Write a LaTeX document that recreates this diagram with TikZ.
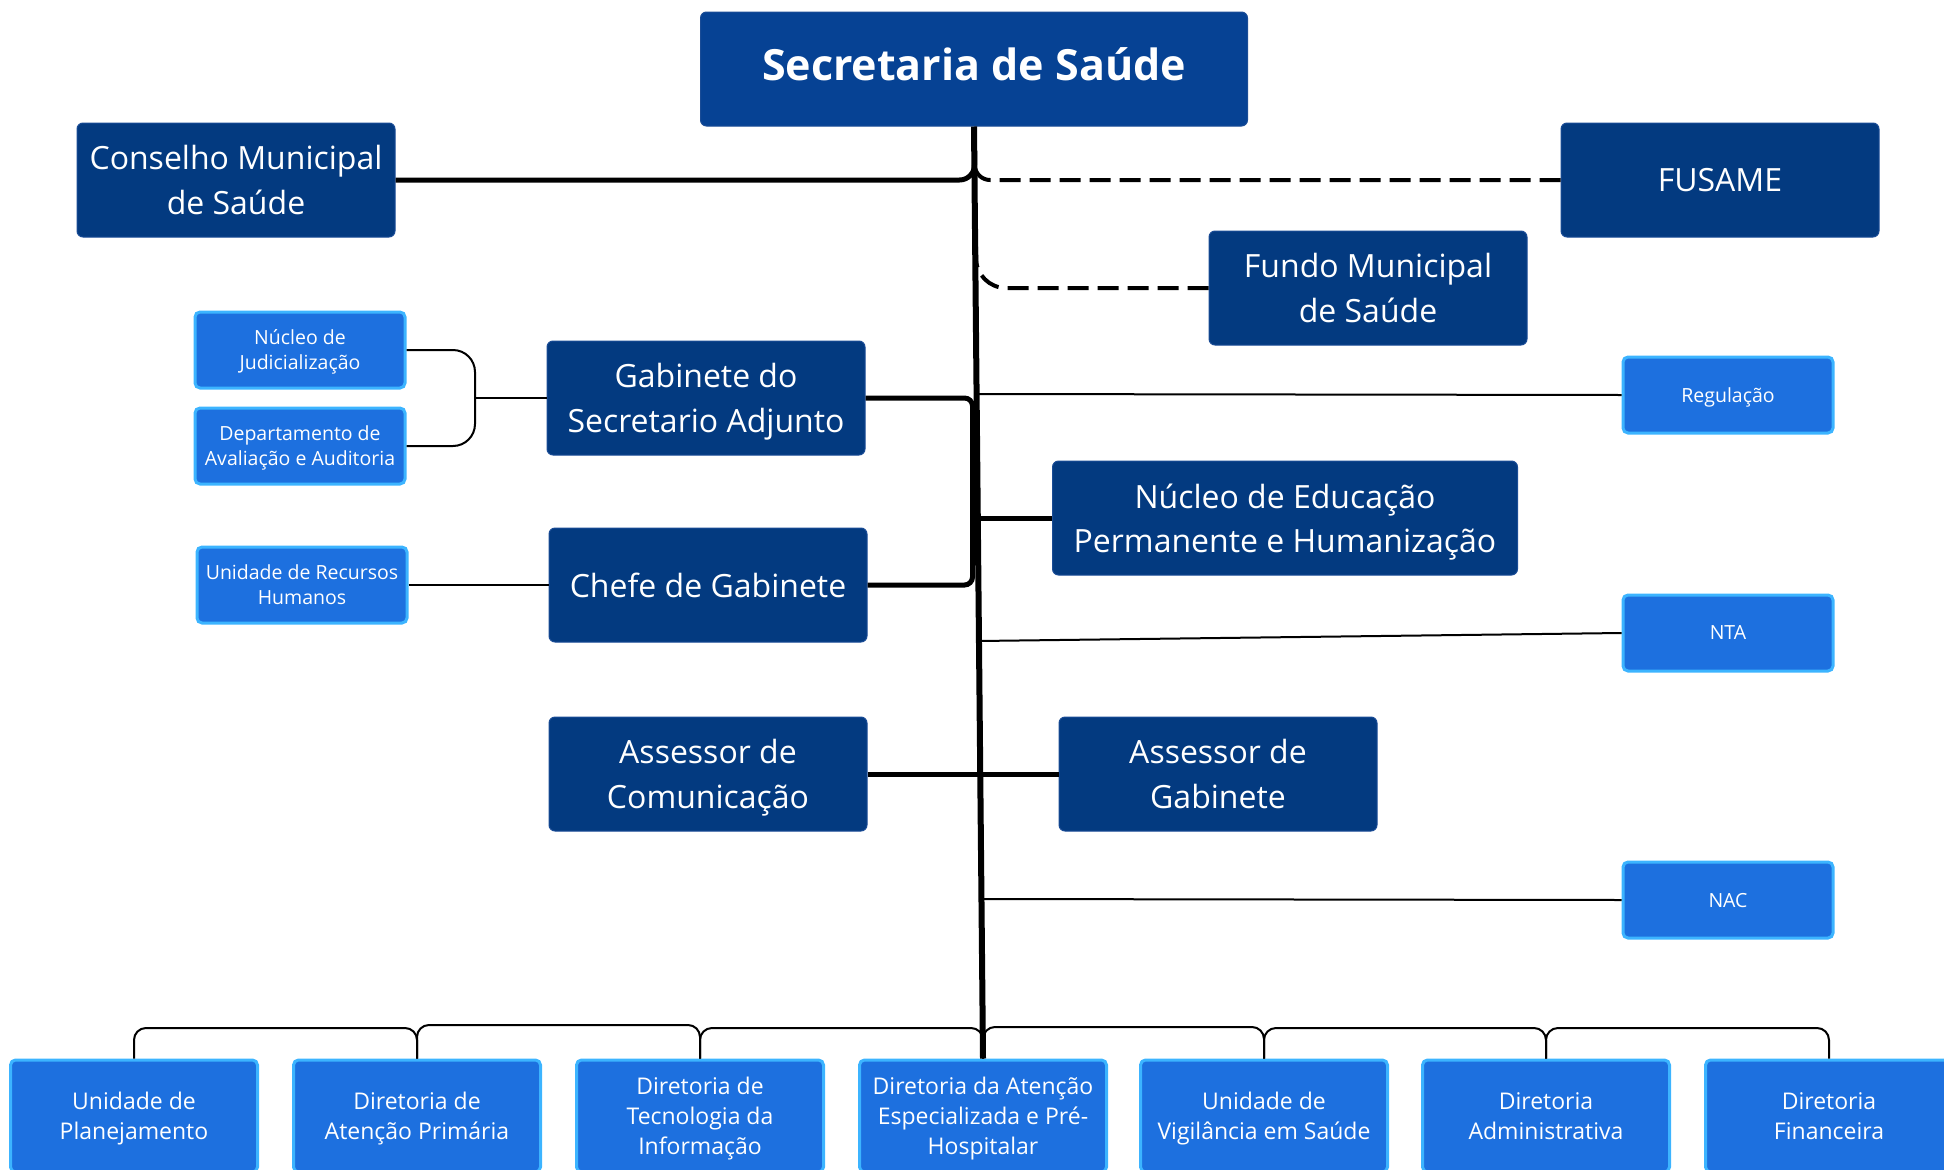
\documentclass[tikz,border=0pt]{standalone}
\usepackage{fontspec}
\setmainfont{Open Sans}
\definecolor{cNavy}{HTML}{033A80}
\definecolor{cNavyEdge}{HTML}{1A4C96}
\definecolor{cTop}{HTML}{064294}
\definecolor{cLight}{HTML}{1D70DF}
\definecolor{cCyan}{HTML}{3CB4FF}
\begin{document}
\begin{tikzpicture}[x=1pt,y=-1pt,
  box/.style={rectangle, rounded corners=6pt, inner sep=0pt, align=center, text=white, text depth=0pt},
  dark/.style={box, fill=cNavy, draw=cNavyEdge, line width=1pt, minimum width=318pt, minimum height=114pt, font=\fontsize{32}{44.5}\selectfont},
  small/.style={box, rounded corners=5pt, fill=cLight, draw=cCyan, line width=3pt, minimum width=210pt, minimum height=76pt, font=\fontsize{19.5}{25}\selectfont},
  bottombox/.style={small, minimum width=247pt, minimum height=112pt, font=\fontsize{23}{30}\selectfont},
  trunkline/.style={line width=6pt},
  thickline/.style={line width=5pt},
  thinline/.style={line width=2pt},
  dashlink/.style={line width=4pt, dash pattern=on 21pt off 9pt}
]
\useasboundingbox (0,0) rectangle (1944,1170);

% top
\node[rectangle, rounded corners=6pt, inner sep=0pt, text=white, fill=cTop, draw=cNavyEdge, line width=1pt,
  minimum width=547pt, minimum height=114pt, text height=23pt, text depth=0pt,
  font=\fontsize{43}{50}\selectfont\bfseries] (sec) at (974,69) {Secretaria de Saúde};
\node[dark] (cms) at (236,180) {Conselho Municipal\\de Saúde};
\node[dark] (fus) at (1720,180) {FUSAME};
\node[dark] (fms) at (1368,288) {Fundo Municipal\\de Saúde};
\node[dark] (gsa) at (706,398) {Gabinete do\\Secretario Adjunto};
\node[dark] (chg) at (708,585) {Chefe de Gabinete};
\node[dark, minimum width=465pt] (nep) at (1285,518) {Núcleo de Educação\\Permanente e Humanização};
\node[dark] (asc) at (708,774) {Assessor de\\Comunicação};
\node[dark] (asg) at (1218,774) {Assessor de\\Gabinete};

% small boxes
\node[small] (nj) at (300,350) {Núcleo de\\Judicialização};
\node[small] (daa) at (300,446) {Departamento de\\Avaliação e Auditoria};
\node[small] (urh) at (302,585) {Unidade de Recursos\\Humanos};
\node[small] (reg) at (1728,395) {Regulação};
\node[small] (nta) at (1728,633) {NTA};
\node[small] (nac) at (1728,900) {NAC};

% bottom boxes
\node[bottombox] (b1) at (134,1116) {Unidade de\\Planejamento};
\node[bottombox] (b2) at (417,1116) {Diretoria de\\Atenção Primária};
\node[bottombox] (b3) at (700,1116) {Diretoria de\\Tecnologia da\\Informação};
\node[bottombox] (b4) at (983,1116) {Diretoria da Atenção\\Especializada e Pré-\\Hospitalar};
\node[bottombox] (b5) at (1264,1116) {Unidade de\\Vigilância em Saúde};
\node[bottombox] (b6) at (1546,1116) {Diretoria\\Administrativa};
\node[bottombox] (b7) at (1829,1116) {Diretoria\\Financeira};

% trunk
\draw[trunkline] (sec.south) -- (b4.north);

% coordinates on trunk
\coordinate (tC) at (974.5,150);
\coordinate (tF) at (976,240);
\coordinate (tR) at (976.5,394);
\coordinate (tN) at (977.5,518);
\coordinate (tT) at (978.6,641);
\coordinate (tA) at (980.5,899);
\coordinate (jL) at (475,398);

% Conselho and FUSAME / Fundo
\draw[thickline, rounded corners=15pt] (cms.east) -- (974.5,180) -- (tC);
\draw[dashlink, rounded corners=15pt] (fus.west) -- (975,180) -- (tC);
\draw[dashlink, rounded corners=30pt] (fms.west) -- (976,288) -- (tF);

% Gabinete adjunto / chefe bracket
\draw[thickline, rounded corners=8pt] (gsa.east) -- (972.5,398) -- (972.5,585) -- (chg.east);
\draw[thickline] (tN) -- (nep.west);
\draw[thickline] (asc.east) -- (asg.west);

% thin right links
\draw[thinline] (tR) -- (reg.west);
\draw[thinline] (tT) -- (nta.west);
\draw[thinline] (tA) -- (nac.west);

% left small links
\draw[thinline, rounded corners=22pt] (nj.east) -- (475,350) -- (475,446) -- (daa.east);
\draw[thinline] (jL) -- (gsa.west);
\draw[thinline] (urh.east) -- (chg.west);

% bottom bus
\draw[thinline, rounded corners=12pt] (b1.north) -- (134,1028) -- (417,1028) -- (b2.north);
\draw[thinline, rounded corners=12pt] (b2.north) -- (417,1025) -- (700,1025) -- (b3.north);
\draw[thinline, rounded corners=12pt] (b3.north) -- (700,1028) -- (983,1028) -- (b4.north);
\draw[thinline, rounded corners=12pt] (b4.north) -- (983,1027) -- (1264,1027) -- (b5.north);
\draw[thinline, rounded corners=12pt] (b5.north) -- (1264,1028) -- (1546,1028) -- (b6.north);
\draw[thinline, rounded corners=12pt] (b6.north) -- (1546,1028) -- (1829,1028) -- (b7.north);
\end{tikzpicture}
\end{document}
